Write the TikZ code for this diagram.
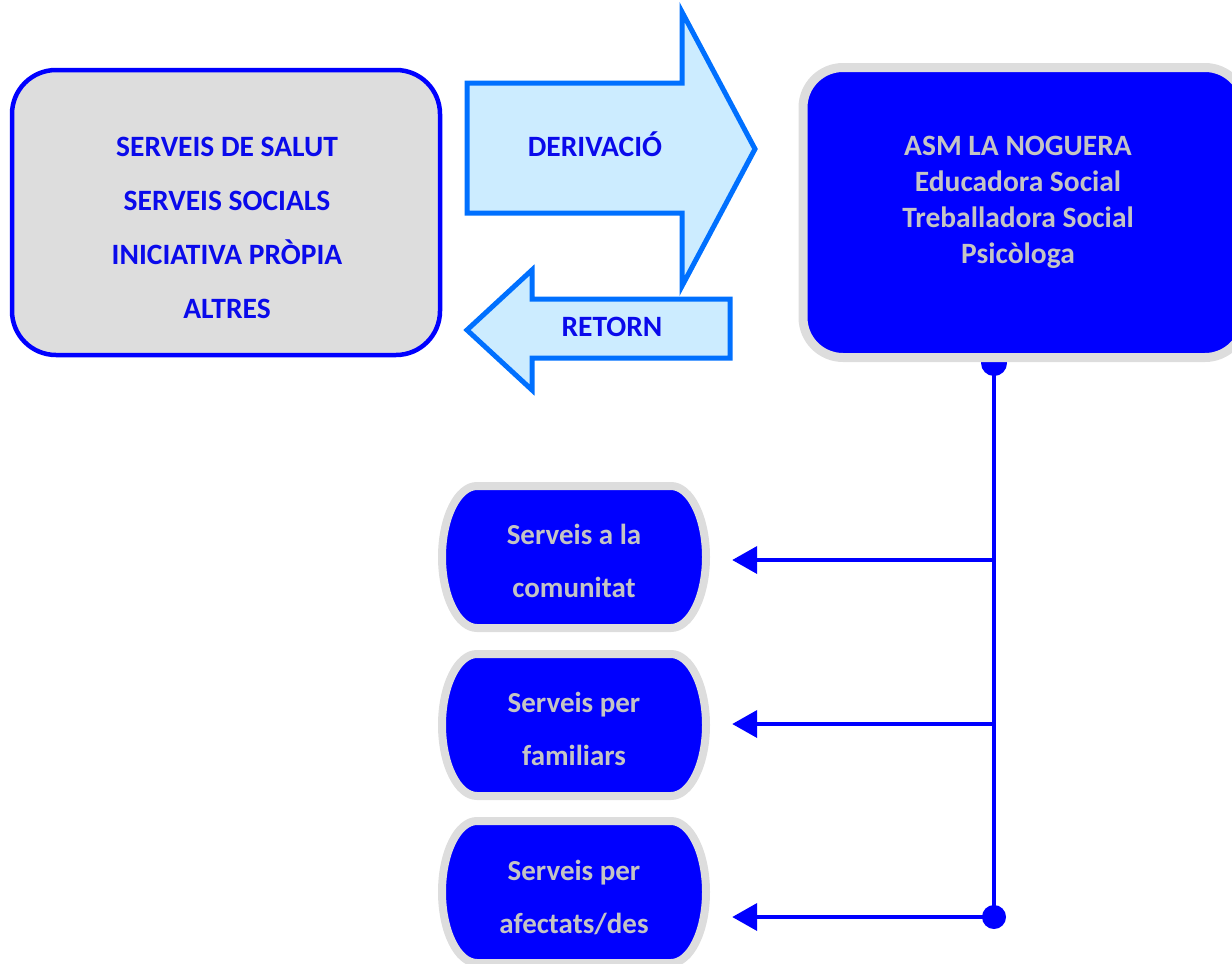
\documentclass[tikz,border=0pt]{standalone}
\usepackage{fontspec}
\setmainfont{Carlito}
\usetikzlibrary{positioning, arrows.meta}
\usepackage{xcolor}
\definecolor{asmblue}{RGB}{0,0,255}
\definecolor{textblue}{RGB}{10,10,235}
\definecolor{boxgray}{RGB}{221,221,221}
\definecolor{textgray}{RGB}{196,196,196}
\definecolor{flowline}{RGB}{0,112,255}
\definecolor{flowfill}{RGB}{204,236,255}

\begin{document}
\begin{tikzpicture}[x=1pt, y=-1pt,
                origbox/.style={rectangle, draw=asmblue, line width=4.5pt, rounded corners=44pt, fill=boxgray, minimum width=428pt, minimum height=285pt},
                asmbox/.style={rectangle, draw=boxgray, line width=9pt, rounded corners=40pt, fill=asmblue, minimum width=442pt, minimum height=290pt},
                bluetext/.style={align=center, inner sep=0pt, text=textblue, font=\fontsize{29.5}{54}\selectfont\bfseries},
                graytext/.style={align=center, inner sep=0pt, text=textgray, font=\fontsize{29.5}{36}\selectfont\bfseries},
                servtext/.style={align=center, inner sep=0pt, minimum width=264pt, text=textgray, font=\fontsize{29}{53}\selectfont\bfseries},
                flow/.style={draw=flowline, fill=flowfill, line width=5pt, line join=miter},
                branch/.style={-{Triangle[length=25pt, width=27pt]}, asmblue, line width=4pt, shorten >=26pt},
                servei/.pic={
                    \draw[boxgray, line width=8pt, fill=asmblue] (-97,-71) -- (97,-71)
                        arc[start angle=90, end angle=-90, x radius=35pt, y radius=71pt]
                        -- (-97,71)
                        arc[start angle=270, end angle=90, x radius=35pt, y radius=71pt] -- cycle;
                }
            ]
            \useasboundingbox (0,0) rectangle (1232,964);

            % origin of the cases
            \node[origbox] (origen) at (226,212.5) {};
            \node[bluetext] (origentext) at (227,228) {SERVEIS DE SALUT\\SERVEIS SOCIALS\\INICIATIVA PRÒPIA\\ALTRES};

            % the two block arrows
            \draw[flow] (467,83) -- (682,83) -- (682,12) -- (755,149) -- (682,286) -- (682,213) -- (467,213) -- cycle;
            \node[bluetext] (derivacio) at (595,144) {DERIVACIÓ};
            \draw[flow] (730,299) -- (532,299) -- (532,270) -- (467,330) -- (532,390) -- (532,358) -- (730,358) -- cycle;
            \node[bluetext] (retorn) at (612,327) {RETORN};

            % the team
            \fill[asmblue] (994,363) circle (13pt);
            \node[asmbox] (asm) at (1024,212.5) {};
            \node[graytext] (asmtext) at (1018,202) {ASM LA NOGUERA\\Educadora Social\\Treballadora Social\\Psicòloga};

            % services
            \pic at (574,557) {servei};
            \node[servtext] (comunitat) at (574,561) {Serveis a la\\comunitat};
            \pic at (574,725) {servei};
            \node[servtext] (familiars) at (574,729) {Serveis per\\familiars};
            \pic at (574,892) {servei};
            \node[servtext] (afectats) at (574,897) {Serveis per\\afectats/des};

            \coordinate (tronc) at (994,363);
            \coordinate (b1) at (994,560);
            \coordinate (b2) at (994,724);
            \coordinate (b3) at (994,917);
            \draw[asmblue, line width=4pt] (tronc) -- (b3);
            \fill[asmblue] (b3) circle (12pt);
            \draw[branch] (b1) -- (b1 -| comunitat.east);
            \draw[branch] (b2) -- (b2 -| familiars.east);
            \draw[branch] (b3) -- (b3 -| afectats.east);
        \end{tikzpicture}
\end{document}
